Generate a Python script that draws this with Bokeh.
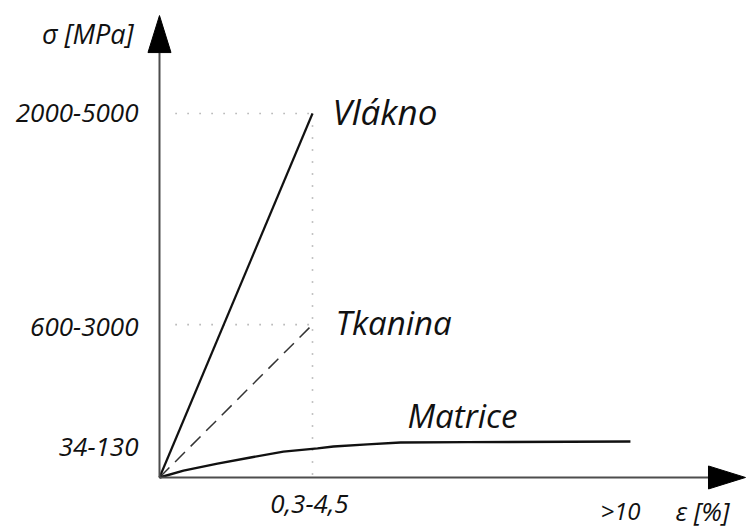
from bokeh.plotting import figure
from bokeh.models import Range1d
from bokeh.core.properties import value
from bokeh.embed import file_html
from bokeh.resources import INLINE

# ---- data (schematic stress-strain diagram, normalised units) ----
materials = ["Vlákno", "Tkanina", "Matrice"]
fibre_strain = 1.0          # strain where fibre / fabric break (tick "0,3-4,5")
fibre_stress = 1.0          # tick "2000-5000"
fabric_stress = 0.42        # tick "600-3000"
matrix_stress_tick = 0.085  # tick "34-130"
matrix_x = [0.0, 0.157, 0.379, 0.595, 0.810, 1.033, 1.137, 1.359, 1.575, 2.013, 3.078]
matrix_y = [0.0, 0.019, 0.038, 0.055, 0.071, 0.080, 0.085, 0.091, 0.096, 0.097, 0.099]
strain_tick_x = [1.0, 3.0]
strain_tick_labels = ["0,3-4,5", ">10"]
stress_tick_y = [1.0, 0.42, 0.085]
stress_tick_labels = ["2000-5000", "600-3000", "34-130"]
x_axis_end = 3.830
y_axis_end = 1.269

# ---- layout ----
W, H = 747, 531
X0, X1 = -1.0392, 3.8431
Y0, Y1 = -0.1484, 1.3104
px_x = (X1 - X0) / W   # data units per pixel
px_y = (Y1 - Y0) / H

p = figure(width=W, height=H, output_backend="svg", toolbar_location=None,
           x_range=Range1d(X0, X1), y_range=Range1d(Y0, Y1), min_border=0)
p.axis.visible = False
p.grid.visible = False
p.outline_line_color = None
p.background_fill_color = "white"
p.border_fill_color = "white"

FONT = value("Open Sans")
AX = "#4d4d4d"
TXT = "#111111"

# dotted guide lines
p.line([0.105, fibre_strain], [fibre_stress, fibre_stress], line_color="#888888",
       line_width=1.6, line_dash="1 11")
p.line([0.105, fibre_strain], [fabric_stress, fabric_stress], line_color="#888888",
       line_width=1.6, line_dash="1 11")
p.line([fibre_strain, fibre_strain], [fibre_stress, 0.005], line_color="#888888",
       line_width=1.6, line_dash="1 11")

# curves
p.line([0, fibre_strain], [0, fibre_stress], line_color=TXT, line_width=2.2)
p.line([0, fibre_strain], [0, fabric_stress], line_color="#333333", line_width=1.5,
       line_dash="14 8")
p.line(matrix_x, matrix_y, line_color=TXT, line_width=2.4)

# axes with arrow heads
head_len, head_half = 37, 11.5
p.line([0, x_axis_end - head_len * px_x], [0, 0], line_color=AX, line_width=2)
p.line([0, 0], [0, y_axis_end - head_len * px_y], line_color=AX, line_width=2)
p.patch([x_axis_end, x_axis_end - head_len * px_x, x_axis_end - head_len * px_x],
        [0, head_half * px_y, -head_half * px_y], fill_color="black", line_color="black")
p.patch([0, head_half * px_x, -head_half * px_x],
        [y_axis_end, y_axis_end - head_len * px_y, y_axis_end - head_len * px_y],
        fill_color="black", line_color="black")

# tick labels
p.text(x=[0] * len(stress_tick_y), y=stress_tick_y, text=stress_tick_labels,
       x_offset=-21, y_offset=[0, 2, 0], text_align="right", text_baseline="middle",
       text_font=FONT, text_font_style="italic", text_font_size="26px", text_color=TXT)
p.text(x=strain_tick_x[:1], y=[0], text=strain_tick_labels[:1], y_offset=27,
       x_offset=-3, text_align="center", text_baseline="middle",
       text_font=FONT, text_font_style="italic", text_font_size="26px", text_color=TXT)
p.text(x=strain_tick_x[1:], y=[0], text=strain_tick_labels[1:], y_offset=33,
       x_offset=2, text_align="center", text_baseline="middle",
       text_font=FONT, text_font_style="italic", text_font_size="24px", text_color=TXT)

# axis titles
p.text(x=[0], y=[y_axis_end], text=["σ [MPa]"], x_offset=-26, y_offset=18,
       text_align="right", text_baseline="middle",
       text_font=FONT, text_font_style="italic", text_font_size="27px", text_color=TXT)
p.text(x=[x_axis_end], y=[0], text=["ε [%]"], x_offset=-43, y_offset=34,
       text_align="center", text_baseline="middle",
       text_font=FONT, text_font_style="italic", text_font_size="26px", text_color=TXT)

# curve names
p.text(x=[fibre_strain, fibre_strain, fibre_strain],
       y=[fibre_stress, fabric_stress, matrix_stress_tick],
       text=materials, x_offset=[20, 23, 95], y_offset=[-2, -2, -31],
       text_align="left", text_baseline="alphabetic",
       text_font=FONT, text_font_style="italic", text_font_size=["35px", "33px", "33px"],
       text_color=TXT)

open("out.html", "w").write(file_html(p, INLINE))
